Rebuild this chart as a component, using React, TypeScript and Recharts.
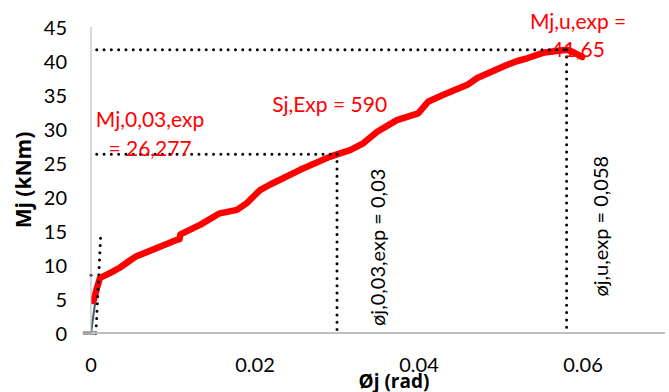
import React from "react";
import { LineChart, Line, XAxis, YAxis, ReferenceLine, ReferenceDot } from "recharts";

// Moment–rotation curve of the joint test
const rotation = [
  0.0003, 0.0007, 0.0011, 0.0023, 0.0035, 0.0048, 0.0054, 0.0105, 0.0108, 0.0109, 0.0133, 0.0157,
  0.0178, 0.019, 0.0206, 0.0218, 0.0255, 0.0291, 0.03, 0.0316, 0.0332, 0.0349, 0.0373, 0.0399,
  0.0411, 0.0429, 0.0459, 0.0471, 0.0507, 0.052, 0.0532, 0.0551, 0.058, 0.0588, 0.0599,
];
const moment = [
  4.7, 6.5, 8.1, 8.8, 9.6, 10.7, 11.2, 13.7, 13.8, 14.5, 15.9, 17.6,
  18.1, 19.1, 21.0, 21.8, 24.0, 25.9, 26.277, 26.9, 27.9, 29.6, 31.3, 32.3,
  34.0, 35.0, 36.5, 37.5, 39.4, 40.0, 40.4, 41.2, 41.65, 41.3, 40.6,
];

// elastic start of the curve
const elasticRotation = [0, 0.0005];
const elasticMoment = [0, 4.4];

const xTicks = [0, 0.02, 0.04, 0.06];
const yTicks = [0, 5, 10, 15, 20, 25, 30, 35, 40, 45];

// characteristic values
const phi003 = 0.03;
const m003 = 26.277;
const phiU = 0.058;
const mU = 41.65;

const curve = rotation.map((x, i) => ({ x, y: moment[i] }));
const elastic = elasticRotation.map((x, i) => ({ x, y: elasticMoment[i] }));

const FONT = "Lato, 'Open Sans', sans-serif";
const TITLE_FONT = "'Open Sans', Lato, sans-serif";
const RED = "#ff0000";

const dotted = {
  stroke: "#000",
  strokeWidth: 3,
  strokeDasharray: "0 7.3",
  strokeLinecap: "round" as const,
  ifOverflow: "visible" as const,
};

const notes = [
  { x: 0.0072, y: 31.6, text: "Mj,0,03,exp", rotate: false },
  { x: 0.0072, y: 27.35, text: "= 26,277", rotate: false },
  { x: 0.0291, y: 33.8, text: "Sj,Exp = 590", rotate: false },
  { x: 0.0594, y: 46.0, text: "Mj,u,exp =", rotate: false },
  { x: 0.0594, y: 41.9, text: "41,65", rotate: false },
  { x: 0.0349, y: 12.6, text: "øj,0,03,exp = 0,03", rotate: true },
  { x: 0.0621, y: 15.7, text: "øj,u,exp = 0,058", rotate: true },
];

const XTick = (props: any) => {
  const { x, y, payload } = props;
  return (
    <text x={x} y={y + 23} textAnchor="middle" dominantBaseline="central" fontFamily={FONT} fontSize={20} fill="#000">
      {payload.value}
    </text>
  );
};

const YTick = (props: any) => {
  const { y, payload } = props;
  return (
    <text x={67} y={y} textAnchor="end" dominantBaseline="central" fontFamily={FONT} fontSize={20} fill="#000">
      {payload.value}
    </text>
  );
};

export default function App() {
  return (
    <div style={{ position: "absolute", left: 0, top: 0, width: 669, height: 392, background: "#fff" }}>
      <LineChart width={669} height={392} margin={{ top: 27, right: 4, bottom: 0, left: 0 }}>
        <XAxis
          type="number"
          dataKey="x"
          domain={[0, 0.07]}
          ticks={xTicks}
          tick={<XTick />}
          tickLine={false}
          axisLine={{ stroke: "#bfbfbf", strokeWidth: 2 }}
          height={59}
          allowDataOverflow
        />
        <YAxis
          type="number"
          dataKey="y"
          domain={[0, 45]}
          ticks={yTicks}
          tick={<YTick />}
          tickLine={false}
          axisLine={{ stroke: "#b3b3b3", strokeWidth: 1 }}
          width={91}
        />

        <ReferenceLine
          segment={[{ x: -0.001, y: 0 }, { x: 0.0007, y: 0 }]}
          stroke="#a6a6a6"
          strokeWidth={4}
          ifOverflow="visible"
        />

        <Line data={curve} dataKey="y" stroke={RED} strokeWidth={6.5} strokeLinecap="round" strokeLinejoin="round" dot={false} isAnimationActive={false} />
        <Line data={elastic} dataKey="y" stroke="#44546a" strokeWidth={2} dot={false} isAnimationActive={false} />

        {/* initial stiffness and characteristic points */}
        <ReferenceLine segment={[{ x: 0.0006, y: 0 }, { x: 0.0012, y: 14.8 }]} {...dotted} />
        <ReferenceLine segment={[{ x: 0, y: 8.5 }, { x: 0.0006, y: 8.5 }]} {...dotted} />
        <ReferenceLine segment={[{ x: 0.0007, y: m003 }, { x: phi003, y: m003 }]} {...dotted} />
        <ReferenceLine segment={[{ x: phi003, y: m003 }, { x: phi003, y: 0 }]} {...dotted} />
        <ReferenceLine segment={[{ x: 0.0007, y: mU }, { x: phiU, y: mU }]} {...dotted} />
        <ReferenceLine segment={[{ x: phiU, y: mU }, { x: phiU, y: 0 }]} {...dotted} />

        {notes.map((n) => (
          <ReferenceDot
            key={n.text}
            x={n.x}
            y={n.y}
            r={0}
            ifOverflow="visible"
            shape={(p: any) => (
              <text
                x={p.cx}
                y={p.cy}
                textAnchor="middle"
                dominantBaseline="central"
                fontFamily={FONT}
                fontSize={n.rotate ? 20 : 21}
                fill={n.rotate ? "#000" : RED}
                transform={n.rotate ? `rotate(-90 ${p.cx} ${p.cy})` : undefined}
              >
                {n.text}
              </text>
            )}
          />
        ))}

        <text x={394} y={381} textAnchor="middle" dominantBaseline="central" fontFamily={TITLE_FONT} fontSize={19} fontWeight="bold" fill="#000">
          Øj (rad)
        </text>
        <text
          x={23}
          y={180}
          textAnchor="middle"
          dominantBaseline="central"
          fontFamily={TITLE_FONT}
          fontSize={21}
          fontWeight="bold"
          fill="#000"
          transform="rotate(-90 23 180)"
        >
          Mj (kNm)
        </text>
      </LineChart>
    </div>
  );
}
